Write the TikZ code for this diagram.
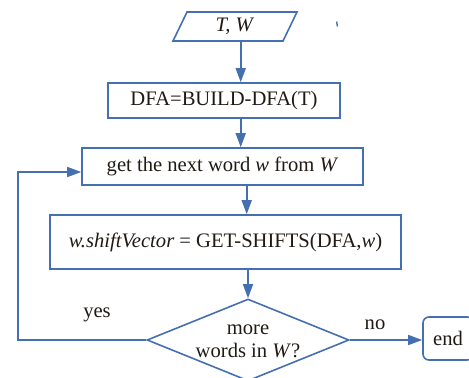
\documentclass[tikz,border=0pt]{standalone}
\usepackage{fontspec}
\setmainfont{Liberation Serif}
\usetikzlibrary{shapes.geometric,arrows.meta,calc}
\definecolor{flow}{RGB}{68,112,178}
\definecolor{ink}{RGB}{32,26,20}
\begin{document}
\begin{tikzpicture}[x=0.5pt,y=-0.5pt,
  line/.style={draw=flow,line width=0.8pt},
  arr/.style={line,-{Triangle[length=7pt,width=5pt]}},
  procbox/.style={line,rectangle,inner sep=0pt,text=ink,font=\fontsize{10.3}{12.5}\selectfont},
  txt/.style={text=ink,font=\fontsize{10.3}{12.5}\selectfont,inner sep=0pt}]
\useasboundingbox (0,0) rectangle (469,378);

% input parallelogram
\draw[line] (187,12) -- (297,12) -- (283,41) -- (173,41) -- cycle;
\node[txt,minimum width=55pt,minimum height=14.5pt] (io) at (235,26.5) {\textit{T, W}};
\draw[draw=flow,line width=0.7pt] (336.6,21.5) -- (337.4,26.5);

% process boxes
\node[procbox,minimum width=116pt,minimum height=17.5pt] (dfa) at (224,100.5) {DFA=BUILD-DFA(T)};
\node[procbox,minimum width=140.5pt,minimum height=18.5pt] (get) at (222.5,166.5) {get the next word \textit{w} from \textit{W}};
\node[procbox,minimum width=175.5pt,minimum height=27pt] (shift) at (225.5,242) {\textit{w.shiftVector} = GET-SHIFTS(DFA,\textit{w})};

% decision
\node[line,diamond,minimum width=101pt,minimum height=41pt,inner sep=0pt] (dec) at (248,340) {};
\node[txt,align=center] (dectext) at (248,341) {more\\[-1pt]words in \textit{W}?};

% terminal
\node[procbox,rounded corners=3pt,minimum width=25pt,minimum height=21.5pt] (end) at (448,338.5) {end};

% connector columns
\coordinate (c1) at (240.7,0);
\coordinate (c2) at (246.7,0);
\coordinate (c3) at (248,0);
\coordinate (lp) at (18,172);

\draw[arr] (io.south -| c1) -- (dfa.north -| c1);
\draw[arr] (dfa.south -| c1) -- (get.north -| c1);
\draw[arr] (get.south -| c2) -- (shift.north -| c2);
\draw[arr] (shift.south -| c3) -- (dec.north);
\draw[arr] (dec.west) -| (lp) -- (lp -| get.west);
\draw[arr] (dec.east) -- (end.west |- dec.east);

\node[txt] (yes) at (97,315) {yes};
\node[txt] (no) at (375,325) {no};
\end{tikzpicture}
\end{document}
